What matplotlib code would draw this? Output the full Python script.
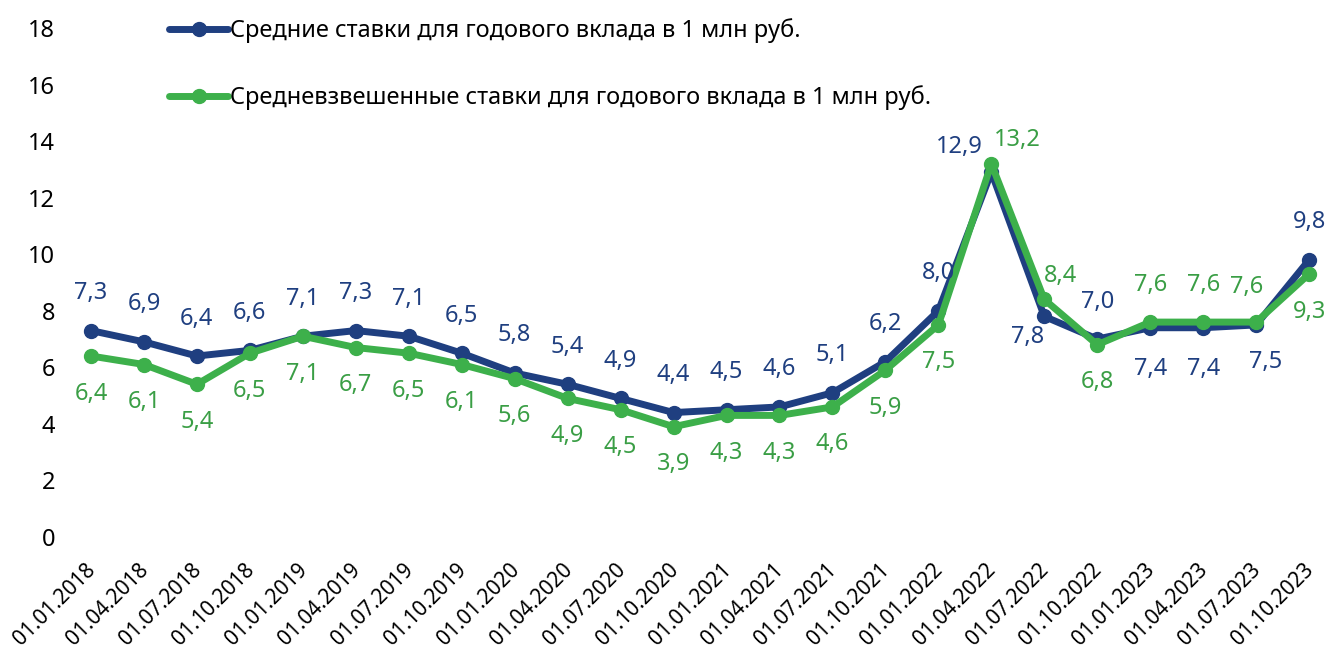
import matplotlib
matplotlib.use('Agg')
import matplotlib.pyplot as plt
from matplotlib.transforms import ScaledTranslation

plt.rcParams['font.family'] = ['Noto Sans', 'DejaVu Sans']

# --- данные ---
dates = ['01.01.2018', '01.04.2018', '01.07.2018', '01.10.2018',
         '01.01.2019', '01.04.2019', '01.07.2019', '01.10.2019',
         '01.01.2020', '01.04.2020', '01.07.2020', '01.10.2020',
         '01.01.2021', '01.04.2021', '01.07.2021', '01.10.2021',
         '01.01.2022', '01.04.2022', '01.07.2022', '01.10.2022',
         '01.01.2023', '01.04.2023', '01.07.2023', '01.10.2023']
avg_rate = [7.3, 6.9, 6.4, 6.6, 7.1, 7.3, 7.1, 6.5, 5.8, 5.4, 4.9, 4.4,
            4.5, 4.6, 5.1, 6.2, 8.0, 12.9, 7.8, 7.0, 7.4, 7.4, 7.5, 9.8]
wavg_rate = [6.4, 6.1, 5.4, 6.5, 7.1, 6.7, 6.5, 6.1, 5.6, 4.9, 4.5, 3.9,
             4.3, 4.3, 4.6, 5.9, 7.5, 13.2, 8.4, 6.8, 7.6, 7.6, 7.6, 9.3]
y_ticks = [0, 2, 4, 6, 8, 10, 12, 14, 16, 18]

label_avg = 'Средние ставки для годового вклада в 1 млн руб.'
label_wavg = 'Средневзвешенные ставки для годового вклада в 1 млн руб.'

BLUE = '#1F3F80'
GREEN = '#3DB04B'
GREEN_TXT = '#3A9E45'
FS = 17       # подписи значений, ось Y, легенда
FS_X = 15     # даты

# смещения подписей (в пунктах), по умолчанию: синие сверху, зелёные снизу
off_avg = {i: (0, 27) for i in range(len(dates))}
off_wavg = {i: (0, -27) for i in range(len(dates))}
off_avg.update({17: (-23, 18), 18: (-12, -15), 20: (0, -30), 21: (0, -30), 22: (7, -27)})
off_wavg.update({17: (19, 17), 18: (12, 17), 20: (0, 27), 21: (0, 27), 22: (-7, 25)})

fig = plt.figure(figsize=(13.3, 6.55), dpi=100)
ax = fig.add_axes([60 / 1330, 118 / 655, 1265 / 1330, 509 / 655])

x = list(range(len(dates)))
ax.plot(x, avg_rate, color=BLUE, lw=5, marker='o', ms=10, label=label_avg,
        solid_capstyle='round', zorder=2)
ax.plot(x, wavg_rate, color=GREEN, lw=5, marker='o', ms=10, label=label_wavg,
        solid_capstyle='round', zorder=3)

for i, v in enumerate(avg_rate):
    ax.annotate(f'{v:.1f}'.replace('.', ','), (i, v), xytext=off_avg[i],
                textcoords='offset points', ha='center', va='center',
                fontsize=FS, color=BLUE)
for i, v in enumerate(wavg_rate):
    ax.annotate(f'{v:.1f}'.replace('.', ','), (i, v), xytext=off_wavg[i],
                textcoords='offset points', ha='center', va='center',
                fontsize=FS, color=GREEN_TXT)

ax.set_xlim(-0.585, 23.3)
ax.set_ylim(0, 18)
ax.set_yticks(y_ticks)
ax.set_yticklabels([str(t) for t in y_ticks], fontsize=FS)
ax.set_xticks(x)
ax.set_xticklabels(dates, rotation=45, ha='right', rotation_mode='anchor', fontsize=FS_X)
ax.tick_params(axis='y', length=0, pad=3.5)
ax.tick_params(axis='x', length=0, pad=6)
shift = ScaledTranslation(-6 / 100, -14 / 100, fig.dpi_scale_trans)
for lbl in ax.get_xticklabels():
    lbl.set_transform(lbl.get_transform() + shift)
for s in ax.spines.values():
    s.set_visible(False)

ax.legend(loc='upper left', bbox_to_anchor=(100 / 1265, 1.037), frameon=False,
          fontsize=FS, handlelength=2.5, handletextpad=0.05, labelspacing=1.77,
          borderaxespad=0)

fig.savefig('out.png', dpi=100)
